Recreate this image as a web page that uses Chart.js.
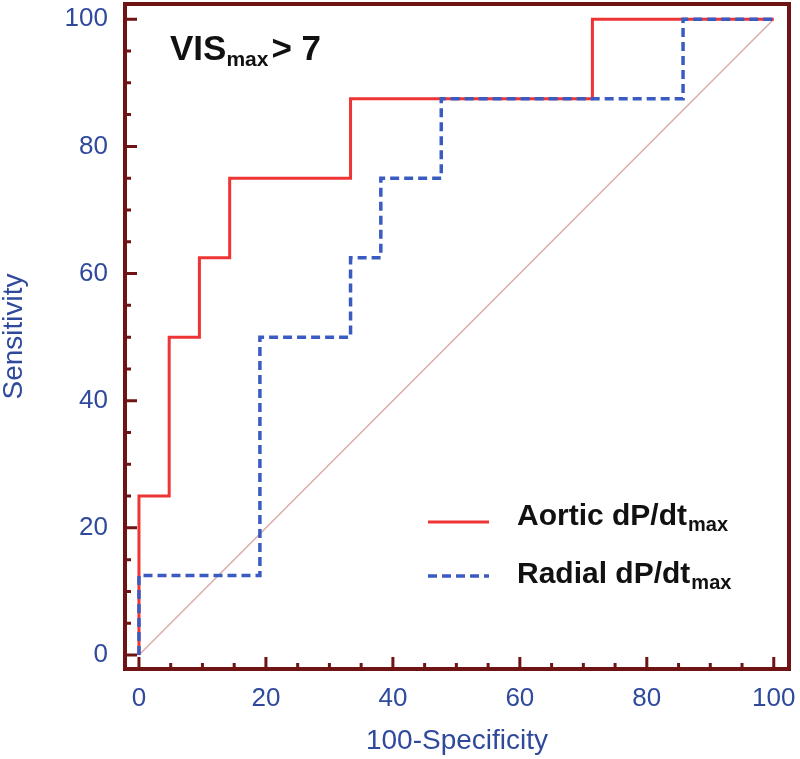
<!DOCTYPE html>
<html>
<head>
<meta charset="utf-8">
<script src="https://cdn.jsdelivr.net/npm/chart.js@4.4.1/dist/chart.umd.min.js"></script>
<style>
  html, body { margin: 0; padding: 0; background: #ffffff; }
  #wrap { width: 800px; height: 759px; }
</style>
</head>
<body>
<div id="wrap"><canvas id="c" width="800" height="759"></canvas></div>
<script>
// ---- Data (ROC curve vertices: 100-Specificity, Sensitivity) ----
const aorticFPR = [0, 0, 4.76, 4.76, 9.52, 9.52, 14.29, 14.29, 33.33, 33.33, 71.43, 71.43, 100];
const aorticTPR = [0, 25, 25, 50, 50, 62.5, 62.5, 75, 75, 87.5, 87.5, 100, 100];
const radialFPR = [0, 0, 19.05, 19.05, 33.33, 33.33, 38.10, 38.10, 47.62, 47.62, 85.71, 85.71, 100];
const radialTPR = [0, 12.5, 12.5, 50, 50, 62.5, 62.5, 75, 75, 87.5, 87.5, 100, 100];
const refFPR = [0, 100];
const refTPR = [0, 100];
const tickValues = [0, 20, 40, 60, 80, 100];
const tickLabels = ['0', '20', '40', '60', '80', '100'];
const minorStep = 5;
const seriesNames = ['Aortic dP/dt', 'Radial dP/dt'];
const seriesSub = 'max';
const panelTitle = ['VIS', 'max', '> 7'];
const xTitle = '100-Specificity';
const yTitle = 'Sensitivity';

const FONT = '"Liberation Sans", Arial, Helvetica, sans-serif';
const MAROON = '#6e1414';
const BLUE_TXT = '#2f4a9c';
const RED = '#ee3434';
const BLUE = '#3a5cc2';

function pts(xs, ys) { return xs.map((x, i) => ({ x: x, y: ys[i] })); }

Chart.defaults.font.family = FONT;

const framePlugin = {
  id: 'frame',
  afterDatasetsDraw(chart) {
    const ctx = chart.ctx;
    const a = chart.chartArea;
    const xs = chart.scales.x, ys = chart.scales.y;
    ctx.save();
    // inward ticks
    ctx.strokeStyle = MAROON;
    ctx.lineWidth = 3;
    ctx.beginPath();
    for (let v = 0; v <= 100; v += minorStep) {
      const major = v % 20 === 0;
      const len = major ? 12 : 6;
      const px = xs.getPixelForValue(v);
      ctx.moveTo(px, a.bottom);
      ctx.lineTo(px, a.bottom - len);
      const py = ys.getPixelForValue(v);
      ctx.moveTo(a.left, py);
      ctx.lineTo(a.left + len, py);
    }
    ctx.stroke();
    // frame
    ctx.lineWidth = 4;
    ctx.strokeRect(a.left, a.top, a.right - a.left, a.bottom - a.top);

    // panel title
    ctx.fillStyle = '#111111';
    ctx.textBaseline = 'alphabetic';
    ctx.textAlign = 'left';
    let x0 = 170, b0 = 60;
    ctx.font = 'bold 35px ' + FONT;
    ctx.fillText(panelTitle[0], x0, b0);
    x0 += ctx.measureText(panelTitle[0]).width;
    ctx.font = 'bold 21px ' + FONT;
    ctx.fillText(panelTitle[1], x0, b0 + 6);
    x0 += ctx.measureText(panelTitle[1]).width + 3;
    ctx.font = 'bold 35px ' + FONT;
    ctx.fillText(panelTitle[2], x0, b0);

    // legend
    const ds = chart.data.datasets;
    const rows = [
      { d: ds[1], name: seriesNames[0], lineY: 522, base: 525 },
      { d: ds[0], name: seriesNames[1], lineY: 576, base: 583 }
    ];
    rows.forEach(r => {
      ctx.strokeStyle = r.d.borderColor;
      ctx.lineWidth = r.d.borderWidth;
      ctx.setLineDash(r.d.borderDash || []);
      ctx.beginPath();
      ctx.moveTo(428, r.lineY);
      ctx.lineTo(489, r.lineY);
      ctx.stroke();
      ctx.setLineDash([]);
      ctx.fillStyle = '#111111';
      ctx.font = 'bold 30px ' + FONT;
      ctx.fillText(r.name, 517, r.base);
      const w = ctx.measureText(r.name).width;
      ctx.font = 'bold 20px ' + FONT;
      ctx.fillText(seriesSub, 517 + w + 1, r.base + 6);
    });
    ctx.restore();
  }
};

new Chart(document.getElementById('c'), {
  type: 'scatter',
  data: {
    datasets: [
      {
        label: 'Radial dP/dtmax',
        data: pts(radialFPR, radialTPR),
        showLine: true,
        borderColor: BLUE,
        backgroundColor: BLUE,
        borderWidth: 3.5,
        borderDash: [9, 5],
        pointRadius: 0,
        fill: false,
        tension: 0,
        order: 0
      },
      {
        label: 'Aortic dP/dtmax',
        data: pts(aorticFPR, aorticTPR),
        showLine: true,
        borderColor: RED,
        backgroundColor: RED,
        borderWidth: 3,
        pointRadius: 0,
        fill: false,
        tension: 0,
        order: 1
      },
      {
        label: 'Reference',
        data: pts(refFPR, refTPR),
        showLine: true,
        borderColor: '#dcaca6',
        backgroundColor: '#dcaca6',
        borderWidth: 1.5,
        pointRadius: 0,
        fill: false,
        order: 2
      }
    ]
  },
  options: {
    responsive: false,
    animation: false,
    clip: false,
    layout: { padding: { top: 4, right: 11, left: 0, bottom: 0 } },
    plugins: {
      legend: { display: false },
      tooltip: { enabled: false }
    },
    scales: {
      x: {
        type: 'linear',
        min: -2.2,
        max: 102.4,
        afterBuildTicks: s => { s.ticks = tickValues.map(v => ({ value: v })); },
        afterFit: s => { s.height = 90; s.paddingLeft = 0; s.paddingRight = 0; },
        grid: { display: false, drawTicks: false },
        border: { display: false },
        ticks: {
          color: BLUE_TXT,
          font: { size: 26 },
          padding: 14,
          maxRotation: 0,
          callback: (v) => tickLabels[tickValues.indexOf(v)]
        },
        title: {
          display: true,
          text: xTitle,
          color: BLUE_TXT,
          font: { size: 28 },
          padding: { top: 0, bottom: 1 }
        }
      },
      y: {
        type: 'linear',
        min: -2.2,
        max: 102.4,
        afterBuildTicks: s => { s.ticks = tickValues.map(v => ({ value: v })); },
        afterFit: s => { s.width = 125; s.paddingTop = 0; s.paddingBottom = 0; },
        grid: { display: false, drawTicks: false },
        border: { display: false },
        ticks: {
          color: BLUE_TXT,
          font: { size: 26 },
          padding: 17,
          callback: (v) => tickLabels[tickValues.indexOf(v)]
        },
        title: {
          display: true,
          text: yTitle,
          color: BLUE_TXT,
          font: { size: 28, lineHeight: 1.0 },
          padding: { top: 0, bottom: 0 }
        }
      }
    }
  },
  plugins: [framePlugin]
});
</script>
</body>
</html>
